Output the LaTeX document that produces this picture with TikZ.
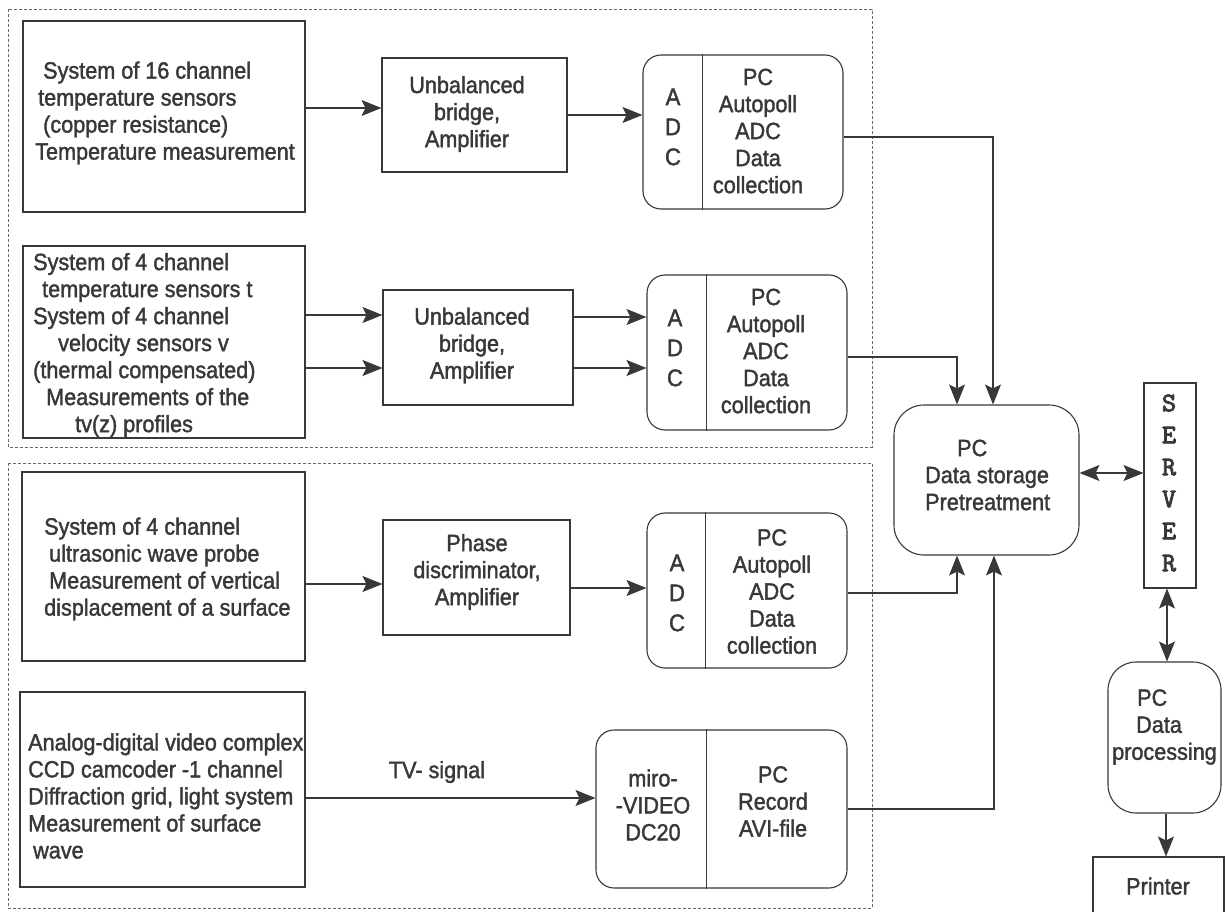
\documentclass[tikz,border=0pt]{standalone}
\usepackage{fontspec}
\setmainfont{Liberation Sans}[FakeStretch=0.92,FakeBold=1.6]
\newfontfamily\srvfont{lmmono10-regular.otf}[FakeBold=3]
\usetikzlibrary{arrows.meta}
\definecolor{ink}{HTML}{383838}
\definecolor{dashc}{HTML}{6A6A6A}
\begin{document}
\begin{tikzpicture}[x=1pt,y=-1pt,
  sq/.style={draw=ink, line width=1.1pt, rectangle, inner sep=0pt},
  rbox/.style={sq, rounded corners=18pt},
  txt/.style={inner sep=0pt, align=center, text=ink, font=\fontsize{23.5}{27}\selectfont},
  ltxt/.style={txt, align=left, anchor=west},
  adcl/.style={txt, font=\fontsize{24}{30}\selectfont},
  arr/.style={draw=ink, line width=1.1pt, -{Stealth[length=20pt,width=16pt,inset=4pt]}},
  darr/.style={draw=ink, line width=1.1pt, {Stealth[length=20pt,width=16pt,inset=4pt]}-{Stealth[length=20pt,width=16pt,inset=4pt]}},
  dashbox/.style={draw=dashc, line width=0.8pt, dash pattern=on 3pt off 2pt},
  divline/.style={draw=ink, line width=1.1pt}
]
\useasboundingbox (0,0) rectangle (1225,912);

% dashed groups
\draw[dashbox] (8,9) rectangle (872,447);
\draw[dashbox] (8,463) rectangle (872,908);

% source boxes
\node[sq, minimum width=282, minimum height=191] (s1) at (164,116.5) {};
\node[sq, minimum width=282, minimum height=192] (s2) at (164,342) {};
\node[sq, minimum width=283, minimum height=189] (s3) at (163.5,566.5) {};
\node[sq, minimum width=285, minimum height=195] (s4) at (162.5,789.5) {};

\node[ltxt] (t1) at (35,113) {\hspace*{8pt}System of 16 channel\\\hspace*{3pt}temperature sensors\\\hspace*{8pt}(copper resistance)\\Temperature measurement};
\node[ltxt] (t2) at (33,345) {System of 4 channel\\\hspace*{9pt}temperature sensors t\\System of 4 channel\\\hspace*{25pt}velocity sensors v\\(thermal compensated)\\\hspace*{13pt}Measurements of the\\\hspace*{42pt}tv(z) profiles};
\node[ltxt] (t3) at (44,569) {System of 4 channel\\\hspace*{5pt}ultrasonic wave probe\\\hspace*{5pt}Measurement of vertical\\displacement of a surface};
\node[ltxt] (t4) at (28,796) {Analog-digital video complex\\CCD camcoder -1 channel\\Diffraction grid, light system\\Measurement of surface\\\hspace*{5pt}wave};

% middle boxes
\node[sq, minimum width=185, minimum height=114] (b1) at (474.5,115) {};
\node[sq, minimum width=190, minimum height=115] (b2) at (478,347.5) {};
\node[sq, minimum width=187, minimum height=115] (b3) at (476.5,577.5) {};
\node[txt] (tb1) at (467,114) {Unbalanced\\bridge,\\Amplifier};
\node[txt] (tb2) at (472,345.5) {Unbalanced\\bridge,\\Amplifier};
\node[txt] (tb3) at (477,572) {Phase\\discriminator,\\Amplifier};

% ADC boxes
\node[rbox, minimum width=200, minimum height=154] (adc1) at (743,132) {};
\node[rbox, minimum width=200, minimum height=155] (adc2) at (747,352.5) {};
\node[rbox, minimum width=200, minimum height=155] (adc3) at (747,590.5) {};
\node[rbox, minimum width=251, minimum height=158] (vid) at (721.5,809) {};
\draw[divline] ([xshift=60pt]adc1.north west) -- ([xshift=60pt]adc1.south west);
\draw[divline] ([xshift=60pt]adc2.north west) -- ([xshift=60pt]adc2.south west);
\draw[divline] ([xshift=59pt]adc3.north west) -- ([xshift=59pt]adc3.south west);
\draw[divline] ([xshift=111pt]vid.north west) -- ([xshift=111pt]vid.south west);

\node[adcl] (a1) at (673,127) {A\\D\\C};
\node[adcl] (a2) at (675,348) {A\\D\\C};
\node[adcl] (a3) at (677,593) {A\\D\\C};
\node[txt] (p1) at (758,131) {PC\\Autopoll\\ADC\\Data\\collection};
\node[txt] (p2) at (766,351) {PC\\Autopoll\\ADC\\Data\\collection};
\node[txt] (p3) at (772,591.5) {PC\\Autopoll\\ADC\\Data\\collection};
\node[txt] (v1) at (653,805) {miro-\\-VIDEO\\DC20};
\node[txt] (v2) at (773,801.5) {PC\\Record\\AVI-file};

% right column
\node[sq, rounded corners=30pt, minimum width=185, minimum height=150] (pc) at (986.5,480) {};
\node[ltxt] (tpc) at (925,475) {\hspace*{32pt}PC\\Data storage\\Pretreatment};
\node[sq, minimum width=52, minimum height=205] (srv) at (1170,485.5) {};
\node[txt, font=\srvfont\fontsize{27}{32}\selectfont] (tsrv) at (1169,483) {S\\E\\R\\V\\E\\R};
\node[sq, rounded corners=28pt, minimum width=113, minimum height=151] (pcp) at (1164.5,737.5) {};
\node[ltxt] (tpcp) at (1112,727) {\hspace*{25pt}PC\\\hspace*{24pt}Data\\processing};
\node[sq, minimum width=131, minimum height=68] (prn) at (1158.5,891) {};
\node[txt] (tprn) at (1158,886) {Printer};

% connectors
\draw[arr] (s1.east |- 0,108) -- (b1.west |- 0,108);
\draw[arr] (b1.east |- 0,115) -- (adc1.west |- 0,115);
\draw[arr] (s2.east |- 0,315) -- (b2.west |- 0,315);
\draw[arr] (s2.east |- 0,368) -- (b2.west |- 0,368);
\draw[arr] (b2.east |- 0,317) -- (adc2.west |- 0,317);
\draw[arr] (b2.east |- 0,368) -- (adc2.west |- 0,368);
\draw[arr] (s3.east |- 0,584) -- (b3.west |- 0,584);
\draw[arr] (b3.east |- 0,588) -- (adc3.west |- 0,588);
\draw[arr] (s4.east |- 0,798) -- (vid.west |- 0,798);
\node[txt] (tv) at (437,772) {TV- signal};

\draw[arr] (adc1.east |- 0,137) -| (pc.north -| 993,0);
\draw[arr] (adc2.east |- 0,357) -| (pc.north -| 957,0);
\draw[arr] (adc3.east |- 0,593) -| (pc.south -| 957,0);
\draw[arr] (vid.east |- 0,809) -| (pc.south -| 994,0);
\draw[darr] (pc.east |- 0,473) -- (srv.west |- 0,473);
\draw[darr] (srv.south -| 1167,0) -- (pcp.north -| 1167,0);
\draw[arr] (pcp.south -| 1166,0) -- (prn.north -| 1166,0);
\end{tikzpicture}
\end{document}
